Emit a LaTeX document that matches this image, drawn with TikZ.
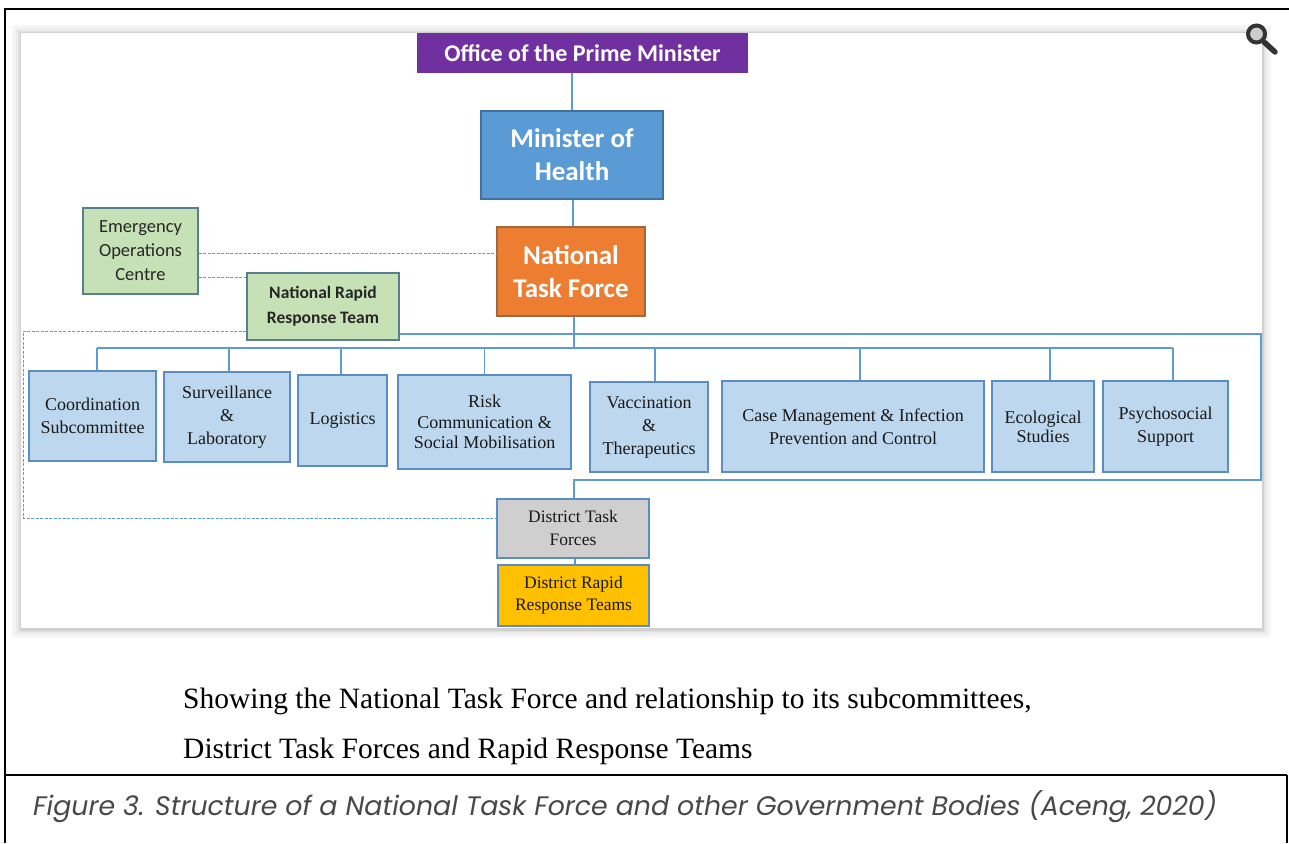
\documentclass[tikz,border=0pt]{standalone}
\usepackage{fontspec}
\setmainfont{Liberation Serif}
\newfontfamily\calfont{Carlito}
\newfontfamily\popfont{Poppins}
\usetikzlibrary{calc}
\definecolor{opmfill}{HTML}{7030A0}
\definecolor{mohfill}{HTML}{5B9BD5}
\definecolor{mohdraw}{HTML}{41719C}
\definecolor{ntffill}{HTML}{ED7D31}
\definecolor{ntfdraw}{HTML}{9E6844}
\definecolor{grnfill}{HTML}{C7E1B6}
\definecolor{grndraw}{HTML}{587E92}
\definecolor{subfill}{HTML}{BDD7EE}
\definecolor{subdraw}{HTML}{5B8CC4}
\definecolor{dtffill}{HTML}{CFCFCF}
\definecolor{drrtfill}{HTML}{FFC000}
\definecolor{linecol}{HTML}{5E9AD3}
\definecolor{icon}{HTML}{333333}
\definecolor{captxt}{HTML}{484848}
\tikzset{
  box/.style={draw, line width=1.3pt, inner sep=0pt, align=center},
  topbox/.style={box, text=white, font=\calfont\bfseries\fontsize{27}{33}\selectfont},
  grnbox/.style={box, fill=grnfill, draw=grndraw, text=black!85},
  subbox/.style={box, fill=subfill, draw=subdraw, text=black!90, font=\fontsize{18}{23}\selectfont},
  conn/.style={draw=linecol, line width=1.4pt},
  dconn/.style={draw=linecol, line width=0.9pt, dash pattern=on 3pt off 1.5pt},
}
\begin{document}
\begin{tikzpicture}[x=1pt,y=-1pt]
\useasboundingbox (0,0) rectangle (1289,843);
\fill[white] (0,0) rectangle (1289,843);
% outer frame
\draw[black, line width=2pt] (5,843) -- (5,9) -- (1289,9);
\draw[black, line width=2.6pt] (4,775) -- (1287,775);
\draw[black, line width=1.6pt] (1287,775) -- (1287,843);
% panel with soft shadow
\foreach \d/\c in {9/3,7/5,5/8,3/12,1.5/18}{
  \fill[black!\c] (21-\d,33-\d+1) rectangle (1262+\d,628+\d+1);
}
\fill[white] (21,33) rectangle (1262,628);
% magnifier icon
\fill[black!20] (1256.5,34) circle (8);
\draw[icon, line width=4pt] (1256.5,34) circle (8.5);
\draw[icon, line width=5.5pt, line cap=round] (1264,42) -- (1275,52);
% top nodes
\node[topbox, fill=opmfill, draw=opmfill, minimum width=329pt, minimum height=38pt,
  font=\calfont\bfseries\fontsize{24}{28}\selectfont] (opm) at (582.5,53) {Office of the Prime Minister};
\node[topbox, fill=mohfill, draw=mohdraw, minimum width=182pt, minimum height=88pt] (moh) at (572,155) {Minister of\\Health};
\node[topbox, fill=ntffill, draw=ntfdraw, minimum width=148pt, minimum height=89pt] (ntf) at (571,271.5) {National\\Task Force};
\node[grnbox, minimum width=115pt, minimum height=86pt, font=\calfont\fontsize{18.5}{24}\selectfont] (eoc) at (140.5,251) {Emergency\\Operations\\Centre};
\node[grnbox, minimum width=152pt, minimum height=67pt, font=\calfont\bfseries\fontsize{17.5}{25}\selectfont] (nrrt) at (323,306.5) {National Rapid\\Response Team};
% subcommittees
\node[subbox, minimum width=127pt, minimum height=90pt] (coord) at (92.5,416) {Coordination\\Subcommittee};
\node[subbox, minimum width=126pt, minimum height=90pt] (surv) at (227,417) {Surveillance\\\&\\Laboratory};
\node[subbox, minimum width=89pt, minimum height=91pt] (logi) at (342.5,420.5) {Logistics};
\node[subbox, minimum width=173pt, minimum height=94pt, font=\fontsize{18}{20.5}\selectfont] (risk) at (484.5,422) {Risk\\Communication \&\\Social Mobilisation};
\node[subbox, minimum width=118pt, minimum height=90pt] (vacc) at (649,427) {Vaccination\\\&\\Therapeutics};
\node[subbox, minimum width=262pt, minimum height=91pt] (case) at (853,426.5) {Case Management \& Infection\\Prevention and Control};
\node[subbox, minimum width=102pt, minimum height=91pt, font=\fontsize{18}{19}\selectfont] (eco) at (1043,426.5) {Ecological\\Studies};
\node[subbox, minimum width=125pt, minimum height=91pt] (psy) at (1165.5,426.5) {Psychosocial\\Support};
% district
\node[box, fill=dtffill, draw=subdraw, text=black!90, minimum width=152pt, minimum height=59pt, font=\fontsize{17.5}{23}\selectfont] (dtf) at (573,528.5) {District Task\\Forces};
\node[box, fill=drrtfill, draw=subdraw, text=black!90, minimum width=151pt, minimum height=61pt, font=\fontsize{17.5}{22.5}\selectfont] (drrt) at (573.5,595.5) {District Rapid\\Response Teams};
% coordinates
\coordinate (busL) at (97,348);
\coordinate (busR) at (1173,348);
\coordinate (brTR) at (1261,334);
\coordinate (brBR) at (1261,480);
\coordinate (brBL) at (574,480);
\coordinate (dTL) at (23,331);
\coordinate (dBL) at (23,518);
% solid connectors
\draw[conn] (moh.north |- opm.south) -- (moh.north);
\draw[conn] ([xshift=1pt]moh.south) -- ([xshift=2pt]ntf.north);
\draw[conn] ([xshift=3pt]ntf.south) -- ([xshift=3pt]ntf.south |- busL);
\draw[conn] (busL) -- (busR);
\draw[conn] ([xshift=4.5pt]coord.north) -- ([xshift=4.5pt]coord.north |- busL);
\draw[conn] ([xshift=2pt]surv.north) -- ([xshift=2pt]surv.north |- busL);
\draw[conn] ([xshift=-1.5pt]logi.north) -- ([xshift=-1.5pt]logi.north |- busL);
\draw[conn] (risk.north) -- (risk.north |- busL);
\draw[conn] ([xshift=6pt]vacc.north) -- ([xshift=6pt]vacc.north |- busL);
\draw[conn] ([xshift=7pt]case.north) -- ([xshift=7pt]case.north |- busL);
\draw[conn] ([xshift=7pt]eco.north) -- ([xshift=7pt]eco.north |- busL);
\draw[conn] ([xshift=7.5pt]psy.north) -- ([xshift=7.5pt]psy.north |- busL);
\draw[conn] (nrrt.east |- brTR) -- (brTR) -- (brBR) -- (brBL) -- (brBL |- dtf.north);
\draw[conn] ([xshift=2pt]dtf.south) -- ([xshift=1.5pt]drrt.north);
% dashed connectors
\draw[dconn] ([yshift=-2pt]eoc.east) -- ([yshift=-2pt]eoc.east -| ntf.west);
\draw[dconn] ([yshift=-26pt]eoc.east) -- ([yshift=-26pt]eoc.east -| nrrt.west);
\draw[dconn] (nrrt.west |- dTL) -- (dTL) -- (dBL) -- (dBL -| dtf.west);
% captions
\node[anchor=base west, inner sep=0pt, font=\fontsize{29.5}{30}\selectfont] (cap1) at (183,708) {Showing the National Task Force and relationship to its subcommittees,};
\node[anchor=base west, inner sep=0pt, font=\fontsize{29.5}{30}\selectfont] (cap2) at (183,758) {District Task Forces and Rapid Response Teams};
\node[anchor=base west, inner sep=0pt, text=captxt, font=\popfont\itshape\fontsize{26.8}{30}\selectfont] (cap3) at (33,815) {Figure 3. Structure of a National Task Force and other Government Bodies (Aceng, 2020)};
\end{tikzpicture}
\end{document}
